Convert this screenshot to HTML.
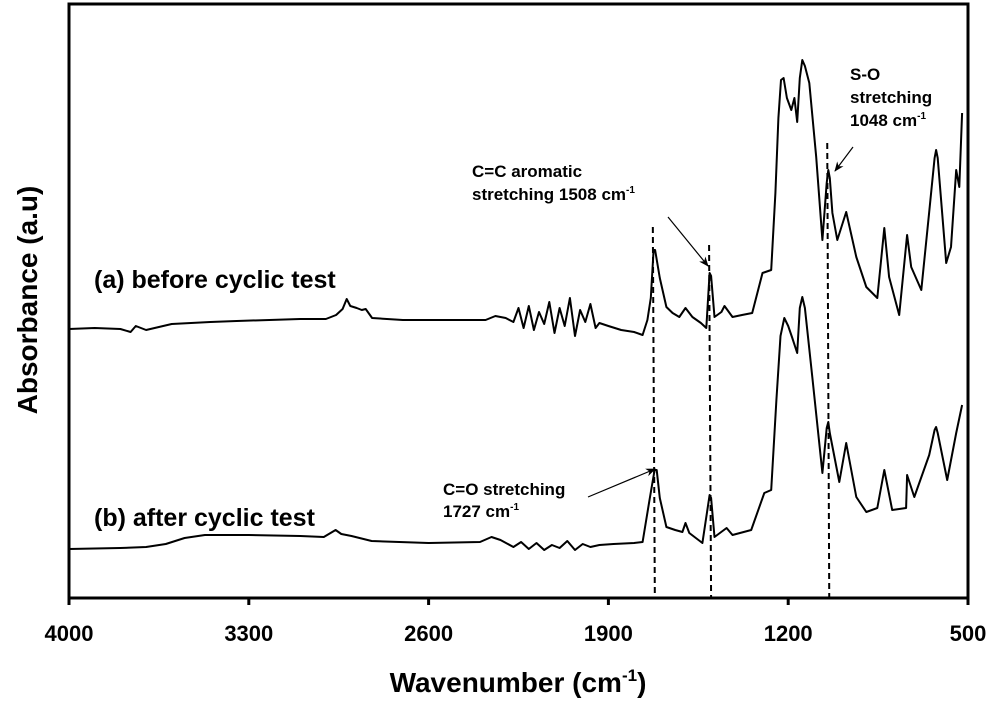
<!DOCTYPE html>
<html><head><meta charset="utf-8"><style>
html,body{margin:0;padding:0;background:#fff;}
svg text{font-family:"Liberation Sans",Arial,sans-serif;font-weight:bold;fill:#000;}
</style></head><body>
<svg id="chart" width="1000" height="708" viewBox="0 0 1000 708" xmlns="http://www.w3.org/2000/svg">
<defs><marker id="ah" markerWidth="10" markerHeight="8" refX="9" refY="4" orient="auto" markerUnits="userSpaceOnUse"><path d="M0,0 L10,4 L0,8 L3,4 Z" fill="#000"/></marker></defs>
<g id="plot"></g>
<rect x="69" y="4" width="899" height="594" fill="none" stroke="#000" stroke-width="3"/>
<g id="ticks"></g>
<text x="518" y="692" font-size="28" text-anchor="middle">Wavenumber (cm<tspan font-size="17" dy="-11">-1</tspan><tspan dy="11">)</tspan></text>
<text transform="translate(37,300) rotate(-90)" font-size="28" text-anchor="middle">Absorbance (a.u)</text>
<text x="94" y="288" font-size="25">(a) before cyclic test</text>
<text x="94" y="526" font-size="25">(b) after cyclic test</text>
<g font-size="17">
<text x="472" y="177">C=C aromatic</text>
<text x="472" y="200">stretching 1508 cm<tspan font-size="10" dy="-7">-1</tspan></text>
</g>
<g font-size="17">
<text x="850" y="80">S-O</text>
<text x="850" y="103">stretching</text>
<text x="850" y="126">1048 cm<tspan font-size="10" dy="-7">-1</tspan></text>
</g>
<g font-size="17">
<text x="443" y="495">C=O stretching</text>
<text x="443" y="517">1727 cm<tspan font-size="10" dy="-7">-1</tspan></text>
</g>
<line x1="668" y1="217" x2="708" y2="266" stroke="#000" stroke-width="1.2" marker-end="url(#ah)"/>
<line x1="853" y1="147" x2="835" y2="171" stroke="#000" stroke-width="1.2" marker-end="url(#ah)"/>
<line x1="588" y1="497" x2="655" y2="469" stroke="#000" stroke-width="1.2" marker-end="url(#ah)"/>
</svg>
<script>
const xTicks = [4000, 3300, 2600, 1900, 1200, 500];
const markerWn = [1727, 1508, 1048];
const markerTop = [227, 245, 143];
// spectrum (a): [wavenumber, absorbance (arb. units)]
const specA_wn = [4000,3900,3800,3760,3740,3700,3600,3450,3347,3100,3000,2960,2935,2919,2905,2880,2860,2845,2820,2700,2500,2378,2340,2300,2270,2250,2230,2210,2190,2170,2150,2130,2110,2090,2070,2050,2030,2010,1990,1970,1950,1935,1900,1850,1800,1767,1748,1735,1724,1718,1700,1674,1650,1624,1600,1573,1540,1519,1506,1500,1487,1460,1448,1417,1380,1340,1300,1266,1250,1238,1228,1218,1205,1188,1176,1165,1155,1145,1135,1118,1091,1067,1050,1044,1038,1028,1009,974,935,896,853,826,807,768,737,721,682,651,630,624,618,585,566,546,534,523];
const specA_ab = [269,270,269,266,272,268,274,276,277,279,279,283,289,299,292,290,288,289,280,278,278,278,282,280,276,290,270,292,268,286,274,296,265,290,272,300,262,288,276,294,270,275,272,268,266,263,278,300,348,348,320,291,285,281,290,281,275,270,325,322,281,286,292,281,283,285,325,328,405,480,518,520,500,488,500,476,520,538,532,515,441,358,415,428,420,385,358,386,341,311,300,370,321,283,363,331,308,386,440,448,440,335,351,428,411,485];
// spectrum (b)
const specB_wn = [4000,3800,3700,3623,3550,3471,3300,3100,3008,2962,2940,2900,2822,2600,2400,2355,2320,2270,2240,2210,2180,2150,2120,2090,2060,2030,2000,1970,1935,1880,1800,1767,1740,1720,1712,1700,1674,1640,1612,1600,1585,1534,1506,1500,1487,1440,1417,1344,1293,1266,1246,1230,1215,1200,1184,1165,1155,1145,1135,1106,1067,1050,1044,1038,1001,974,935,896,853,826,795,741,737,709,651,630,624,618,581,546,523];
const specB_ab = [49,50,51,54,60,63,63,62,61,68,64,62,57,55,56,61,58,51,56,49,55,48,53,50,57,48,54,51,53,54,55,56,98,128,128,100,71,68,66,75,65,55,103,100,61,70,63,68,105,108,198,262,280,272,260,245,290,301,290,221,125,170,176,165,116,155,101,86,90,128,88,90,123,101,143,168,171,165,118,165,193];
const X0=69, X1=968, YB=598, YT=5;
function xs(w){ return X0 + (4000 - w) / 3500 * (X1 - X0); }
function ys(a){ return YB - a * (YB - YT) / 593; }
const NS='http://www.w3.org/2000/svg';
const plot=document.getElementById('plot'), ticks=document.getElementById('ticks');
function drawSpec(wn, ab, name){
  let d='';
  for(let i=0;i<wn.length;i++){ d += (i?'L':'M') + xs(wn[i]).toFixed(1) + ',' + ys(ab[i]).toFixed(1); }
  const p=document.createElementNS(NS,'path');
  p.setAttribute('d', d);
  p.setAttribute('fill','none'); p.setAttribute('stroke','#000'); p.setAttribute('stroke-width','2'); p.setAttribute('stroke-linejoin','round');
  
  
  plot.appendChild(p);
}
drawSpec(specA_wn, specA_ab, 'spectrum-before-cyclic-test');
drawSpec(specB_wn, specB_ab, 'spectrum-after-cyclic-test');
markerWn.forEach((w,i)=>{
  const l=document.createElementNS(NS,'line');
  l.setAttribute('x1', xs(w)); l.setAttribute('x2', xs(w)+2);
  l.setAttribute('y1', markerTop[i]); l.setAttribute('y2', YB);
  l.setAttribute('stroke','#000'); l.setAttribute('stroke-width','2'); l.setAttribute('stroke-dasharray','6,4');
  
  
  plot.appendChild(l);
});
xTicks.forEach(t=>{
  const l=document.createElementNS(NS,'line');
  l.setAttribute('x1', xs(t)); l.setAttribute('x2', xs(t));
  l.setAttribute('y1', YB); l.setAttribute('y2', YB+7);
  l.setAttribute('stroke','#000'); l.setAttribute('stroke-width','3');
  
  
  ticks.appendChild(l);
  const tx=document.createElementNS(NS,'text');
  tx.setAttribute('x', xs(t)); tx.setAttribute('y', 641);
  tx.setAttribute('text-anchor','middle'); tx.setAttribute('font-size','22');
  tx.textContent = t;
  
  
  ticks.appendChild(tx);
});
</script>
</body></html>
